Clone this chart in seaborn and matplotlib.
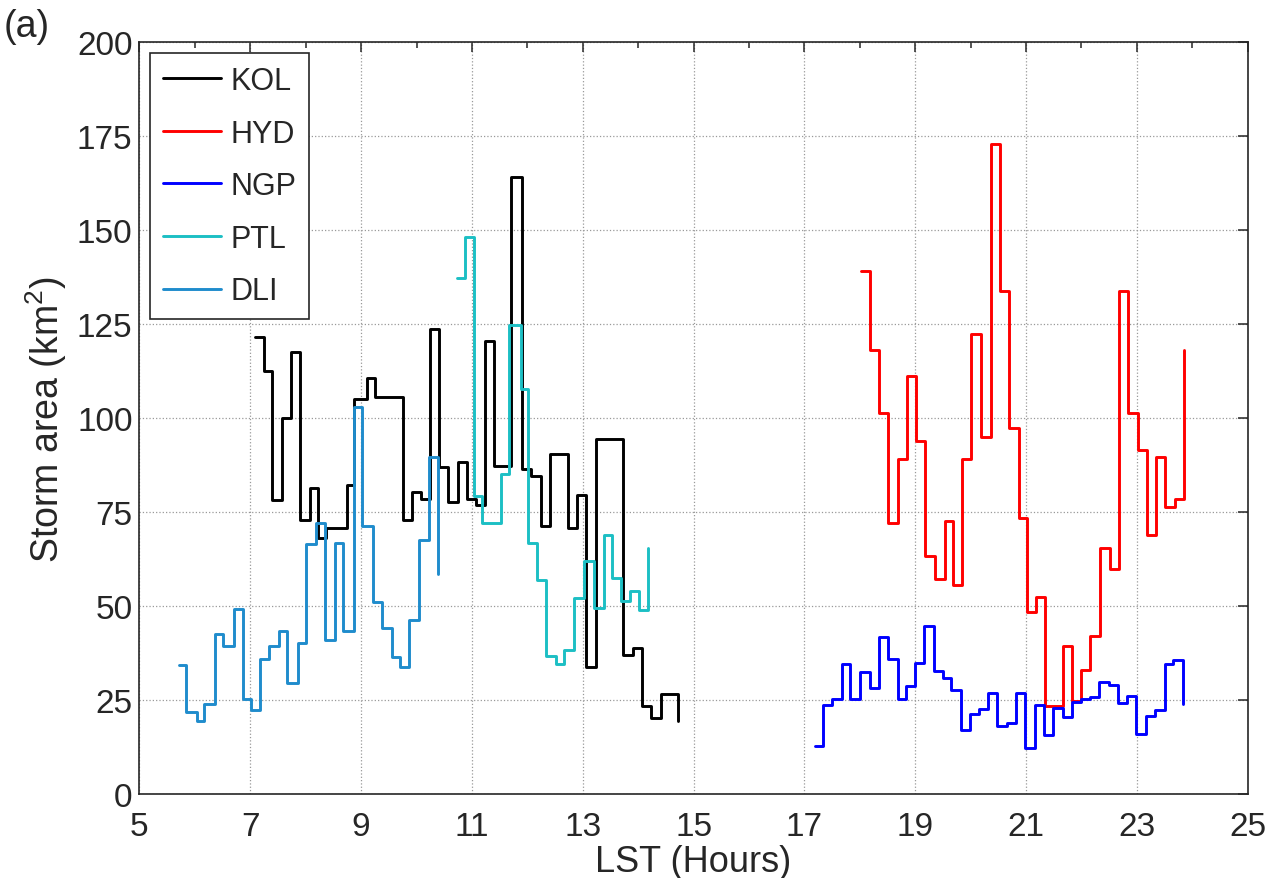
import numpy as np
import pandas as pd
import matplotlib
matplotlib.use("Agg")
import matplotlib.pyplot as plt
import seaborn as sns

# ---------------------------------------------------------------
# datos (hora local LST, area de tormenta km2)
# ---------------------------------------------------------------
kol_hours = [7.09, 7.24, 7.39, 7.57, 7.73, 7.90, 8.07, 8.23, 8.36, 8.75,
             8.88, 9.10, 9.25, 9.75, 9.92, 10.08, 10.24, 10.41, 10.57, 10.75,
             10.91, 11.07, 11.23, 11.40, 11.71, 11.90, 12.06, 12.24, 12.40, 12.73,
             12.90, 13.06, 13.24, 13.72, 13.90, 14.06, 14.23, 14.41, 14.71]
kol_area = [121.5, 112.6, 78.2, 100, 117.5, 72.8, 81.3, 68.1, 70.7, 82.1,
            105, 110.8, 105.7, 72.8, 80.3, 78.6, 123.7, 87, 77.8, 88.3,
            78.6, 76.8, 120.6, 87.2, 164.2, 86.6, 84.5, 71.2, 90.6, 70.8,
            79.6, 33.8, 94.5, 37.1, 38.9, 23.4, 20.3, 26.5, 19.4]

hyd_hours = [18.03, 18.18, 18.35, 18.51, 18.68, 18.86, 19.01, 19.18, 19.35, 19.53,
             19.68, 19.85, 20.01, 20.19, 20.36, 20.53, 20.70, 20.87, 21.02, 21.18,
             21.35, 21.66, 21.82, 22.00, 22.16, 22.33, 22.51, 22.67, 22.84, 23.02,
             23.19, 23.34, 23.50, 23.68, 23.85]
hyd_area = [139.3, 118.2, 101.4, 72.2, 89.1, 111.2, 93.8, 63.3, 57.3, 72.6,
            55.5, 89.1, 122.4, 94.9, 173, 133.8, 97.5, 73.5, 48.3, 52.3,
            23.3, 39.3, 24.8, 33, 42, 65.5, 59.9, 133.8, 101.5, 91.5,
            69, 89.8, 76.5, 78.5, 118.1]

ngp_hours = [17.19, 17.33, 17.50, 17.67, 17.83, 18.01, 18.18, 18.35, 18.51, 18.68,
             18.83, 19.00, 19.16, 19.33, 19.50, 19.65, 19.82, 19.99, 20.15, 20.32,
             20.48, 20.65, 20.82, 20.98, 21.16, 21.33, 21.49, 21.66, 21.82, 22.00,
             22.16, 22.31, 22.49, 22.66, 22.82, 22.99, 23.17, 23.33, 23.50, 23.66,
             23.83]
ngp_area = [12.8, 23.6, 25.2, 34.6, 25.4, 32.4, 28.3, 41.9, 36, 25.4,
            28.8, 34.9, 44.8, 32.7, 30.9, 27.6, 17, 21.3, 22.6, 27,
            18, 19, 27, 12.3, 23.7, 15.6, 22.8, 20.4, 24.6, 25.3,
            25.8, 29.7, 29, 24.2, 26, 15.9, 20.7, 22.4, 34.7, 35.7,
            24]

ptl_hours = [10.73, 10.87, 11.03, 11.19, 11.52, 11.67, 11.88, 12.01, 12.17, 12.34,
             12.52, 12.67, 12.85, 13.03, 13.20, 13.38, 13.53, 13.69, 13.86, 14.02,
             14.18]
ptl_area = [137.3, 148.2, 79.4, 72, 85.2, 124.8, 107.9, 66.7, 57, 36.7,
            34.5, 38.4, 52.2, 61.9, 49.5, 69, 57.5, 51.3, 53.9, 48.9,
            65.5]

dli_hours = [5.72, 5.84, 6.03, 6.17, 6.36, 6.51, 6.71, 6.86, 7.01, 7.17,
             7.34, 7.52, 7.67, 7.86, 8.01, 8.19, 8.35, 8.53, 8.67, 8.87,
             9.02, 9.21, 9.37, 9.55, 9.70, 9.87, 10.05, 10.22, 10.38]
dli_area = [34.4, 21.7, 19.3, 24, 42.6, 39.3, 49.2, 25.4, 22.4, 35.9,
            39.3, 43.5, 29.5, 40.3, 66.5, 72.1, 40.9, 66.9, 43.3, 102.9,
            71.2, 51.2, 44.3, 36.4, 33.7, 46.3, 67.5, 89.7, 58.6]

sites = ['KOL', 'HYD', 'NGP', 'PTL', 'DLI']
colores = {
    'KOL': '#000000',
    'HYD': '#ff0000',
    'NGP': '#0000ff',
    'PTL': '#1cbfc4',
    'DLI': '#1f8ccc',
}

x_ticks = [5, 7, 9, 11, 13, 15, 17, 19, 21, 23, 25]
x_minor = [6, 8, 10, 12, 14, 16, 18, 20, 22, 24]
y_ticks = [0, 25, 50, 75, 100, 125, 150, 175, 200]

# tabla larga para seaborn
series = {
    'KOL': (kol_hours, kol_area),
    'HYD': (hyd_hours, hyd_area),
    'NGP': (ngp_hours, ngp_area),
    'PTL': (ptl_hours, ptl_area),
    'DLI': (dli_hours, dli_area),
}
df = pd.concat([pd.DataFrame({'hour': h, 'area': a, 'site': s})
                for s, (h, a) in series.items()], ignore_index=True)

# ---------------------------------------------------------------
# grafico
# ---------------------------------------------------------------
sns.set_style('white')
plt.rcParams['font.family'] = ['Liberation Sans', 'DejaVu Sans']
plt.rcParams['mathtext.fontset'] = 'custom'
plt.rcParams['mathtext.rm'] = 'Liberation Sans'

fig = plt.figure(figsize=(12.68, 8.79), dpi=100)
ax = fig.add_axes([0.110, 0.0956, 0.874, 0.855])

sns.lineplot(data=df, x='hour', y='area', hue='site', hue_order=sites,
             palette=colores, estimator=None, sort=False,
             drawstyle='steps-post', linewidth=2.1, ax=ax)

ax.set_xlim(5, 25)
ax.set_ylim(0, 200)
ax.set_xticks(x_ticks)
ax.set_xticks(x_minor, minor=True)
ax.set_yticks(y_ticks)

ax.grid(True, which='major', linestyle=':', color='0.6', linewidth=0.9)
ax.tick_params(which='both', direction='in', top=True, right=True,
               labelsize=24, width=1.1, color='0.15')
ax.tick_params(axis='x', which='major', pad=12)
ax.tick_params(axis='y', which='major', pad=5)
ax.tick_params(which='major', length=7)
ax.tick_params(which='minor', length=4)
for sp in ax.spines.values():
    sp.set_visible(True)
    sp.set_color('0.15')
    sp.set_linewidth(1.2)

ax.set_xlabel('LST (Hours)', fontsize=26, labelpad=2)
ax.set_ylabel('Storm area (km$^2$)', fontsize=27, labelpad=6)

leg = ax.legend(loc='upper left', fontsize=22, frameon=True, fancybox=False,
                edgecolor='0.15', handlelength=1.9, labelspacing=0.74,
                borderaxespad=0.35, handletextpad=0.3, borderpad=0.42)
leg.get_frame().set_linewidth(1.2)
leg.get_frame().set_alpha(1)

fig.text(0.003, 0.958, '(a)', fontsize=27)

fig.savefig('out.png', dpi=100)
